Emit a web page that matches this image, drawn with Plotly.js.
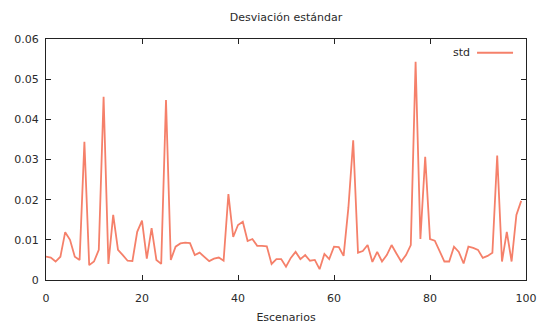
<!DOCTYPE html>
<html>
<head>
<meta charset="utf-8">
<script src="https://cdn.plot.ly/plotly-3.0.1.min.js"></script>
<style>html,body{margin:0;padding:0;background:#fff;}#chart{width:544px;height:324px;}</style>
</head>
<body>
<div id="chart"></div>
<script>
// Scenario index (0..99)
const escenarios = Array.from({length: 100}, (_, i) => i);
// Standard deviation per scenario
const stdValues = [
  0.0058, 0.0056, 0.0046, 0.0058, 0.0119, 0.0100, 0.0058, 0.0050, 0.0344, 0.0037,
  0.0046, 0.0075, 0.0456, 0.0040, 0.0162, 0.0075, 0.0062, 0.0048, 0.0047, 0.0120,
  0.0148, 0.0053, 0.0129, 0.0050, 0.0040, 0.0448, 0.0050, 0.0083, 0.0091, 0.0093,
  0.0092, 0.0062, 0.0068, 0.0058, 0.0047, 0.0053, 0.0056, 0.0048, 0.0214, 0.0107,
  0.0137, 0.0145, 0.0097, 0.0102, 0.0085, 0.0085, 0.0084, 0.0040, 0.0052, 0.0052,
  0.0033, 0.0055, 0.0070, 0.0052, 0.0062, 0.0048, 0.0050, 0.0027, 0.0065, 0.0052,
  0.0083, 0.0082, 0.0060, 0.0180, 0.0348, 0.0068, 0.0072, 0.0087, 0.0045, 0.0070,
  0.0046, 0.0062, 0.0087, 0.0066, 0.0046, 0.0062, 0.0087, 0.0543, 0.0102, 0.0307,
  0.0102, 0.0098, 0.0071, 0.0046, 0.0046, 0.0083, 0.0070, 0.0041, 0.0083, 0.0080,
  0.0075, 0.0055, 0.0060, 0.0068, 0.0310, 0.0046, 0.0120, 0.0046, 0.0162, 0.0197
];
const xTicks = [0, 20, 40, 60, 80, 100];
const yTicks = [0, 0.01, 0.02, 0.03, 0.04, 0.05, 0.06];
const yTickLabels = ['0', '0.01', '0.02', '0.03', '0.04', '0.05', '0.06'];
const seriesName = 'std';
const chartTitle = 'Desviación estándar';
const xTitle = 'Escenarios';

const lineColor = '#f5806a';
const fontFam = 'DejaVu Sans, sans-serif';
const textColor = '#2a2a2a';

const trace = {
  x: escenarios, y: stdValues, type: 'scatter', mode: 'lines', name: seriesName,
  line: {color: lineColor, width: 1.8}, showlegend: false
};

const axisCommon = {
  showgrid: false, zeroline: false, showline: true, linecolor: '#222', linewidth: 1,
  mirror: 'ticks', ticks: 'inside', ticklen: 5, tickcolor: '#222', tickwidth: 1,
  tickfont: {family: fontFam, size: 11, color: textColor}
};

const layout = {
  width: 544, height: 324,
  margin: {l: 46, r: 18, t: 39, b: 44},
  paper_bgcolor: '#fff', plot_bgcolor: '#fff',
  title: {text: chartTitle, font: {family: fontFam, size: 11, color: textColor},
          x: 0.5, xref: 'paper', y: 1 - 17/324, yanchor: 'middle'},
  xaxis: Object.assign({}, axisCommon, {
    range: [0, 100], tickmode: 'array', tickvals: xTicks, ticklabelstandoff: 8,
    title: {text: xTitle, font: {family: fontFam, size: 11, color: textColor}, standoff: 9}
  }),
  yaxis: Object.assign({}, axisCommon, {
    range: [0, 0.06], tickmode: 'array', tickvals: yTicks, ticktext: yTickLabels, ticklabelstandoff: 4
  }),
  annotations: [{
    xref: 'paper', yref: 'paper', x: 0.8875, y: 0.943, xanchor: 'right', yanchor: 'middle',
    text: seriesName, showarrow: false, font: {family: fontFam, size: 11, color: textColor}
  }],
  shapes: [{
    type: 'line', xref: 'paper', yref: 'paper', x0: 0.898, x1: 0.973, y0: 0.943, y1: 0.943,
    line: {color: lineColor, width: 1.8}
  }]
};

Plotly.newPlot('chart', [trace], layout, {staticPlot: true, displayModeBar: false});
</script>
</body>
</html>
